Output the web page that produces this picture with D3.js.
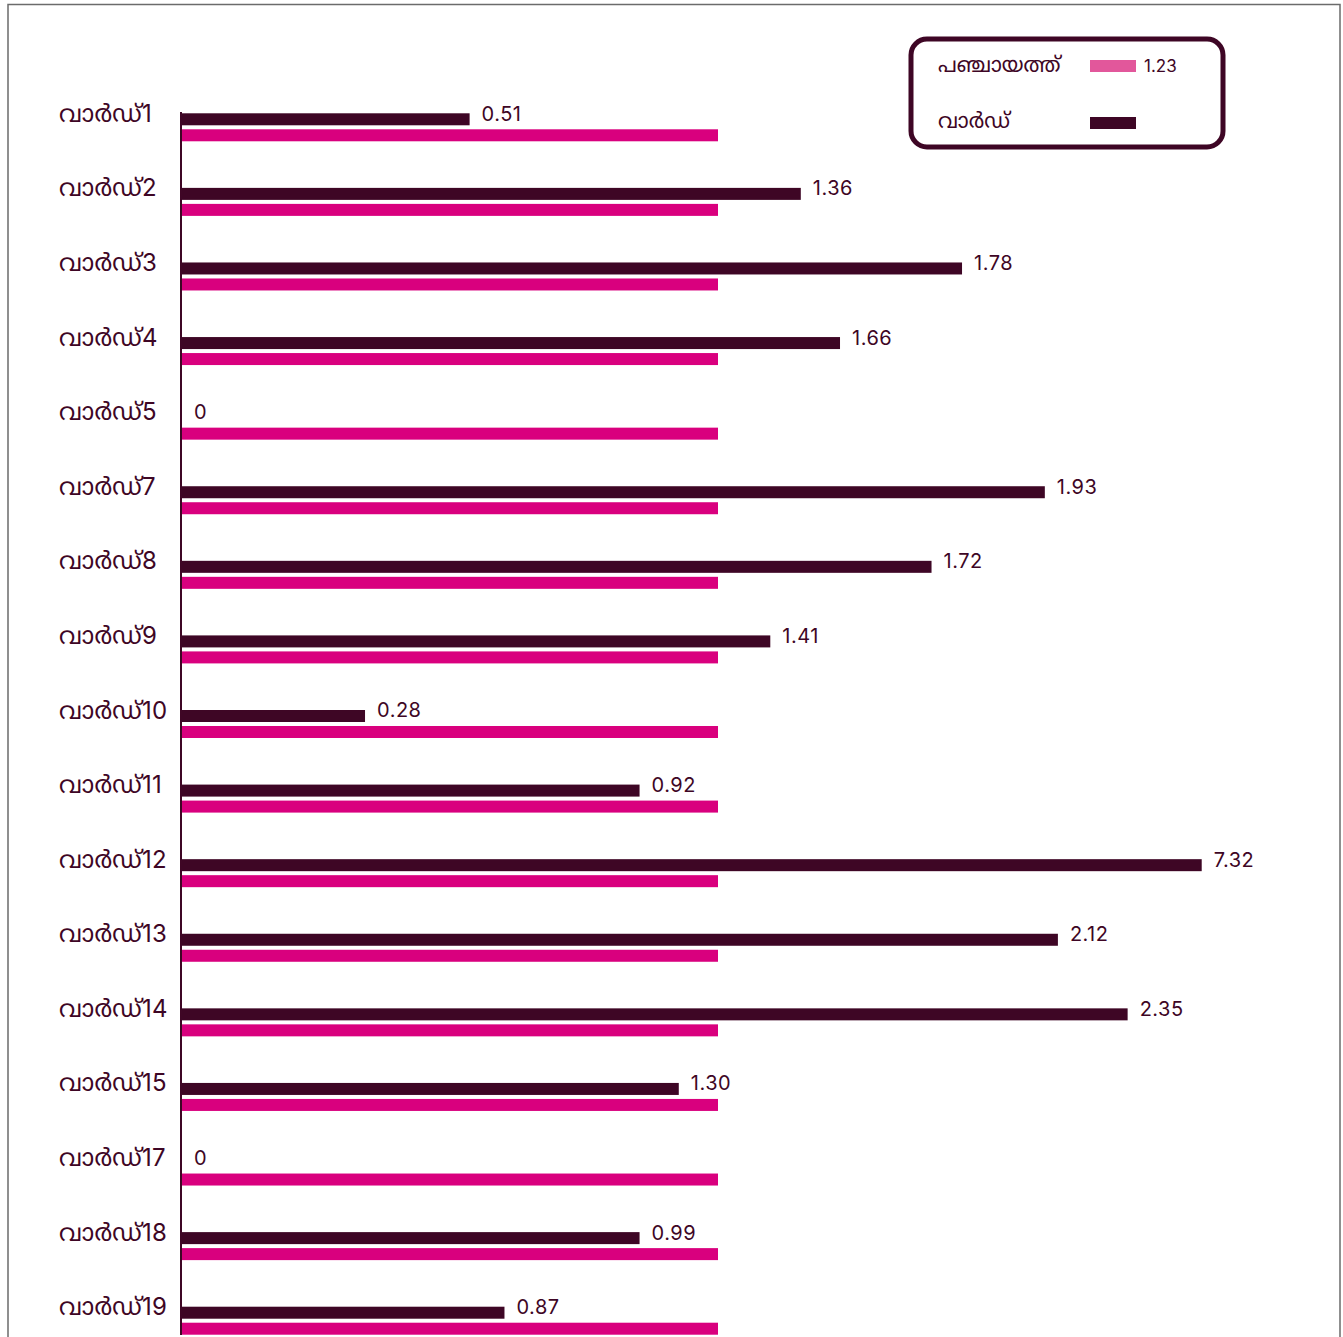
<!DOCTYPE html>
<html>
<head>
<meta charset="utf-8">
<script src="https://cdn.jsdelivr.net/npm/d3@7"></script>
<style>
  html, body { margin: 0; padding: 0; background: #fff; }
  svg { display: block; }
</style>
</head>
<body>
<svg id="chart" width="1343" height="1337"></svg>
<script>
// ---- data ----
const categories = ["വാർഡ്1","വാർഡ്2","വാർഡ്3","വാർഡ്4","വാർഡ്5","വാർഡ്7","വാർഡ്8","വാർഡ്9","വാർഡ്10","വാർഡ്11","വാർഡ്12","വാർഡ്13","വാർഡ്14","വാർഡ്15","വാർഡ്17","വാർഡ്18","വാർഡ്19"];
// printed values
const wardValues = [0.51, 1.36, 1.78, 1.66, 0, 1.93, 1.72, 1.41, 0.28, 0.92, 7.32, 2.12, 2.35, 1.30, 0, 0.99, 0.87];
const wardLabels = ["0.51","1.36","1.78","1.66","0","1.93","1.72","1.41","0.28","0.92","7.32","2.12","2.35","1.30","0","0.99","0.87"];
// bar extents as drawn in the original (read against the panchayat 1.23 bar)
const wardBarLengths = [0.66, 1.42, 1.79, 1.51, 0, 1.98, 1.72, 1.35, 0.42, 1.05, 2.34, 2.01, 2.17, 1.14, 0, 1.05, 0.74];
const panchayatValue = 1.23;
const panchayatLabel = "1.23";
const legendNames = ["പഞ്ചായത്ത്", "വാർഡ്"];

// ---- styles ----
const DARK = "#3e0625";
const PINK = "#d9007e";
const PINK_LEGEND = "#e2579b";
const FONT = "Inter, 'Noto Sans', 'Noto Sans Malayalam', sans-serif";

const svg = d3.select("#chart");

// frame
svg.append("path")
  .attr("d", "M8,1337 V4.5 H1340 V1337")
  .attr("fill", "none").attr("stroke", "#6b6b6b").attr("stroke-width", 1.5);

const x0 = 182;
const x = d3.scaleLinear().domain([0, panchayatValue]).range([x0, 718]);
const y = d3.scaleBand().domain(categories).range([90, 1358]).paddingInner(0).paddingOuter(0);

const barH = 12;
const g = svg.append("g");

categories.forEach((c, i) => {
  const top = y(c) + y.bandwidth() / 2 - 14; // dark bar top
  if (wardBarLengths[i] > 0) {
    g.append("rect")
      .attr("x", x(0)).attr("y", top)
      .attr("width", x(wardBarLengths[i]) - x(0)).attr("height", barH)
      .attr("fill", DARK);
  }
  g.append("rect")
    .attr("x", x(0)).attr("y", top + 16)
    .attr("width", x(panchayatValue) - x(0)).attr("height", barH)
    .attr("fill", PINK);
  g.append("text")
    .attr("x", 59).attr("y", top + 2)
    .attr("dominant-baseline", "middle")
    .attr("font-family", FONT).attr("font-size", 24)
    .attr("letter-spacing", 0.3)
    .attr("fill", DARK)
    .text(c);
  g.append("text")
    .attr("x", x(wardBarLengths[i]) + 12).attr("y", top + 2)
    .attr("dominant-baseline", "middle")
    .attr("font-family", FONT).attr("font-size", 20)
    .attr("letter-spacing", 0.5)
    .attr("fill", DARK)
    .text(wardLabels[i]);
});

// axis line
svg.append("line")
  .attr("x1", x0 - 1).attr("x2", x0 - 1)
  .attr("y1", 112).attr("y2", 1335)
  .attr("stroke", DARK).attr("stroke-width", 2);

// legend
const lg = svg.append("g");
lg.append("rect")
  .attr("x", 911).attr("y", 39).attr("width", 312).attr("height", 108)
  .attr("rx", 16).attr("ry", 16)
  .attr("fill", "#fff").attr("stroke", DARK).attr("stroke-width", 5);
lg.append("text").attr("x", 938).attr("y", 66).attr("dominant-baseline", "middle")
  .attr("font-family", FONT).attr("font-size", 21).attr("fill", DARK).text(legendNames[0]);
lg.append("rect").attr("x", 1090).attr("y", 60).attr("width", 46).attr("height", 12).attr("fill", PINK_LEGEND);
lg.append("text").attr("x", 1144).attr("y", 67).attr("dominant-baseline", "middle")
  .attr("font-family", FONT).attr("font-size", 17).attr("fill", DARK).text(panchayatLabel);
lg.append("text").attr("x", 938).attr("y", 122).attr("dominant-baseline", "middle")
  .attr("font-family", FONT).attr("font-size", 21).attr("fill", DARK).text(legendNames[1]);
lg.append("rect").attr("x", 1090).attr("y", 117).attr("width", 46).attr("height", 12).attr("fill", DARK);
</script>
</body>
</html>
